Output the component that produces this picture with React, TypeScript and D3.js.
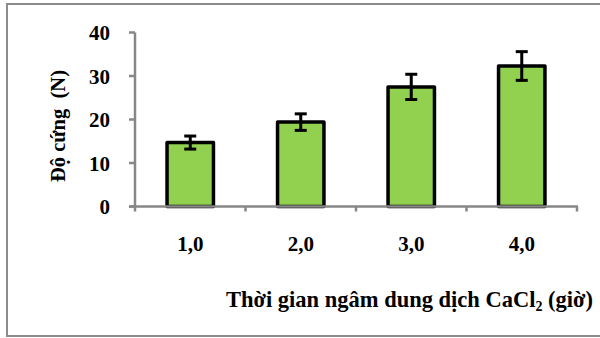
import React, { useEffect, useRef } from 'react';
import * as d3 from 'd3';

const categories = ['1,0', '2,0', '3,0', '4,0'];
const values = [14.7, 19.4, 27.5, 32.3];
const errors = [1.5, 1.9, 2.9, 3.3];
const yTicks = [0, 10, 20, 30, 40];

const W = 600;
const H = 338;
const FONT = '"Liberation Serif", "Times New Roman", serif';

const App = () => {
  const svgRef = useRef<SVGSVGElement>(null);

  useEffect(() => {
    const svg = d3.select(svgRef.current);
    svg.selectAll('*').remove();

    const left = 135, right = 577, top = 32.5, bottom = 206.5;

    const x = d3.scaleBand().domain(categories).range([left, right]).paddingInner(0.58).paddingOuter(0.29);
    const y = d3.scaleLinear().domain([0, 40]).range([bottom, top]);

    // khung ngoài
    svg.append('rect')
      .attr('x', 7).attr('y', 4)
      .attr('width', 620).attr('height', 332)
      .attr('fill', 'white')
      .attr('stroke', '#8c8c8c')
      .attr('stroke-width', 2);

    // trục y
    svg.append('line')
      .attr('x1', left).attr('x2', left)
      .attr('y1', top).attr('y2', bottom)
      .attr('stroke', '#878787').attr('stroke-width', 2.5);

    svg.selectAll('.ytick')
      .data(yTicks)
      .enter()
      .append('line')
      .attr('x1', left - 6).attr('x2', left)
      .attr('y1', d => y(d)).attr('y2', d => y(d))
      .attr('stroke', '#878787').attr('stroke-width', 2.5);

    svg.selectAll('.ylabel')
      .data(yTicks)
      .enter()
      .append('text')
      .attr('x', 110)
      .attr('y', d => y(d) + 7.5)
      .attr('text-anchor', 'end')
      .attr('font-family', FONT)
      .attr('font-weight', 'bold')
      .attr('font-size', 21)
      .text(d => d);

    // các cột
    svg.selectAll('.bar')
      .data(values)
      .enter()
      .append('rect')
      .attr('x', (d, i) => x(categories[i])!)
      .attr('width', x.bandwidth())
      .attr('y', d => y(d))
      .attr('height', d => bottom - y(d))
      .attr('fill', '#92D050')
      .attr('stroke', '#000')
      .attr('stroke-width', 3.5)
      .attr('stroke-linejoin', 'round');

    // trục x
    const edges = categories.map(c => x(c)! - (x.step() * x.paddingInner()) / 2).concat([right]);
    svg.append('line')
      .attr('x1', left - 6).attr('x2', right + 1)
      .attr('y1', bottom).attr('y2', bottom)
      .attr('stroke', '#878787').attr('stroke-width', 2.5);

    svg.selectAll('.xtick')
      .data(edges)
      .enter()
      .append('line')
      .attr('x1', d => d).attr('x2', d => d)
      .attr('y1', bottom).attr('y2', bottom + 5)
      .attr('stroke', '#878787').attr('stroke-width', 2.5);

    // thanh sai số
    const cx = (i: number) => x(categories[i])! + x.bandwidth() / 2;
    const eb = svg.selectAll('.err')
      .data(values)
      .enter()
      .append('g')
      .attr('stroke', '#000')
      .attr('stroke-width', 3);
    eb.append('line')
      .attr('x1', (d, i) => cx(i))
      .attr('x2', (d, i) => cx(i))
      .attr('y1', (d, i) => y(d + errors[i]))
      .attr('y2', (d, i) => y(d - errors[i]));
    eb.append('line')
      .attr('x1', (d, i) => cx(i) - 6)
      .attr('x2', (d, i) => cx(i) + 6)
      .attr('y1', (d, i) => y(d + errors[i]))
      .attr('y2', (d, i) => y(d + errors[i]));
    eb.append('line')
      .attr('x1', (d, i) => cx(i) - 6)
      .attr('x2', (d, i) => cx(i) + 6)
      .attr('y1', (d, i) => y(d - errors[i]))
      .attr('y2', (d, i) => y(d - errors[i]));

    svg.selectAll('.xlabel')
      .data(categories)
      .enter()
      .append('text')
      .attr('x', d => x(d)! + x.bandwidth() / 2)
      .attr('y', 251)
      .attr('text-anchor', 'middle')
      .attr('font-family', FONT)
      .attr('font-weight', 'bold')
      .attr('font-size', 21)
      .text(d => d);

    // tiêu đề trục
    const xt = svg.append('text')
      .attr('x', 226)
      .attr('y', 307)
      .attr('font-family', FONT)
      .attr('font-weight', 'bold')
      .attr('font-size', 22.5);
    xt.append('tspan').text('Thời gian ngâm dung dịch CaCl');
    xt.append('tspan').attr('font-size', 14).attr('dy', 4).text('2');
    xt.append('tspan').attr('dy', -4).text(' (giờ)');

    svg.append('text')
      .attr('transform', 'translate(65,126) rotate(-90)')
      .attr('text-anchor', 'middle')
      .attr('font-family', FONT)
      .attr('font-weight', 'bold')
      .attr('font-size', 20.5)
      .text('Độ cứng \u00A0(N)');
  }, []);

  return (
    <svg
      ref={svgRef}
      width={W}
      height={H}
      style={{ position: 'absolute', left: 0, top: 0 }}
    />
  );
};

export default App;
